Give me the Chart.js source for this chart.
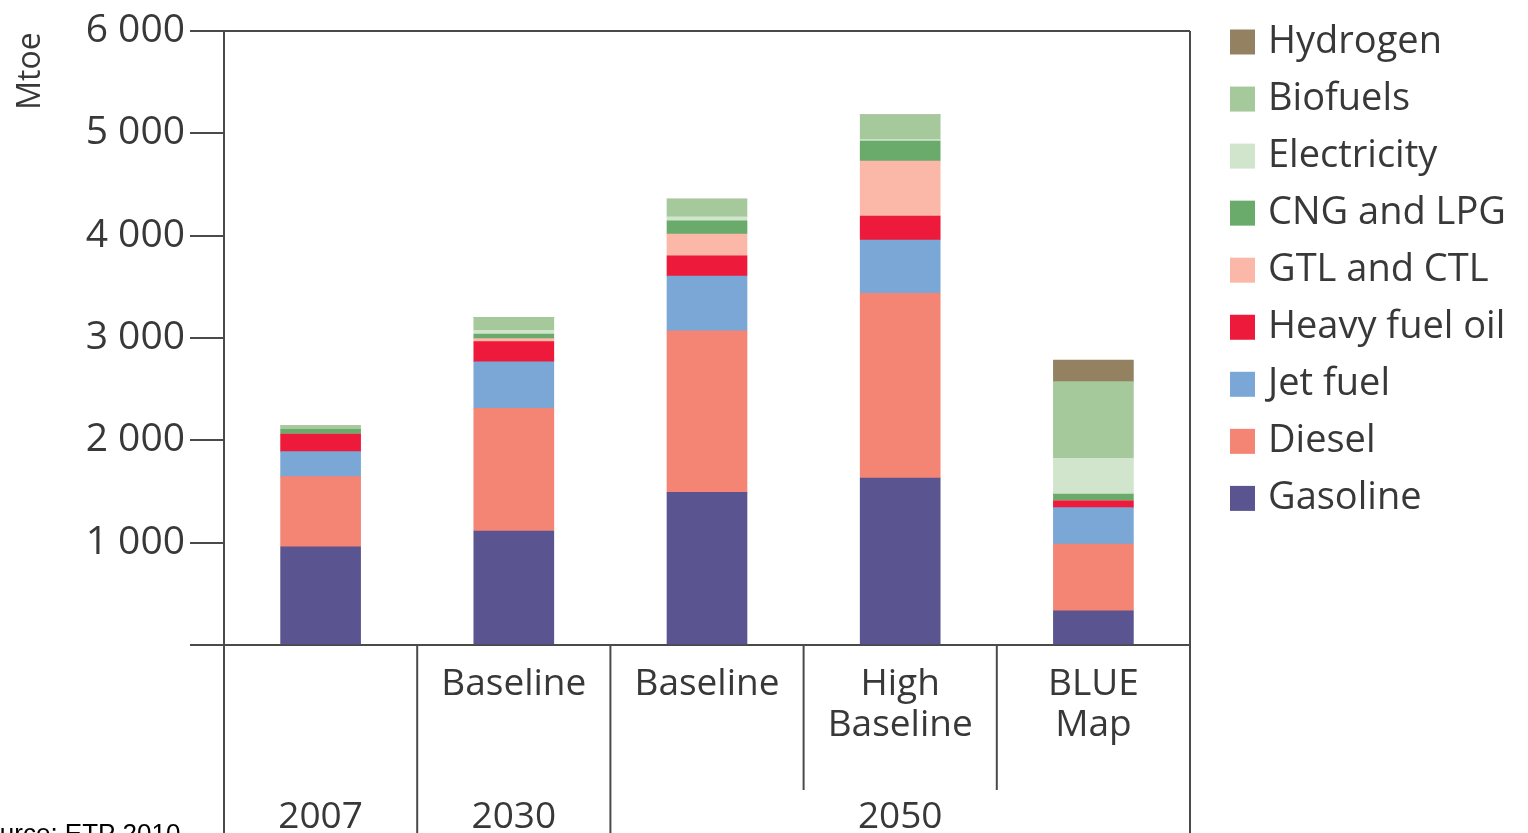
<!DOCTYPE html>
<html>
<head>
<meta charset="utf-8">
<script src="https://cdn.jsdelivr.net/npm/chart.js@4/dist/chart.umd.min.js"></script>
<style>
  html, body { margin: 0; padding: 0; background: #ffffff; overflow: hidden; }
  #wrap { position: relative; width: 1528px; height: 833px; }
</style>
</head>
<body>
<div id="wrap"><canvas id="c" width="1528" height="833"></canvas></div>
<script>
// Transport final energy demand by fuel (Mtoe)
const scenarios = [[''], ['Baseline'], ['Baseline'], ['High', 'Baseline'], ['BLUE', 'Map']];
const years = ['2007', '2030', '2050', '2050', '2050'];

const gasoline     = [960, 1114, 1492, 1632, 335];
const diesel       = [685, 1199, 1579, 1805, 652];
const jetFuel      = [245, 455, 535, 521, 355];
const heavyFuelOil = [172, 196, 198, 234, 68];
const gtlCtl       = [0, 30, 212, 538, 0];
const cngLpg       = [45, 45, 130, 195, 66];
const electricity  = [0, 35, 39, 15, 348];
const biofuels     = [35, 128, 173, 240, 749];
const hydrogen     = [0, 0, 0, 0, 212];

const yMin = 0, yMax = 6000, yStep = 1000;
const unitLabel = 'Mtoe';
const sourceNote = 'Source: ETP 2010';

const INK = '#383838';
const LINE = '#4a4a4a';
const FONT = '"Open Sans", "DejaVu Sans", sans-serif';

const series = [
  { label: 'Gasoline',       data: gasoline,     color: '#5a5591' },
  { label: 'Diesel',         data: diesel,       color: '#f48473' },
  { label: 'Jet fuel',       data: jetFuel,      color: '#7ba7d7' },
  { label: 'Heavy fuel oil', data: heavyFuelOil, color: '#ed1a3b' },
  { label: 'GTL and CTL',    data: gtlCtl,       color: '#fbb8a9' },
  { label: 'CNG and LPG',    data: cngLpg,       color: '#6aab6b' },
  { label: 'Electricity',    data: electricity,  color: '#d1e5cd' },
  { label: 'Biofuels',       data: biofuels,     color: '#a6c99c' },
  { label: 'Hydrogen',       data: hydrogen,     color: '#938161' }
];

function fmtThousands(v) {
  return String(v).replace(/\B(?=(\d{3})+(?!\d))/g, ' ');
}

// Frame, category separators, two-level category labels, legend and notes
const decorations = {
  id: 'decorations',
  afterDraw(chart) {
    const { ctx, chartArea: a, scales: { x } } = chart;
    const H = chart.height;
    ctx.save();
    ctx.strokeStyle = LINE;
    ctx.lineWidth = 2;

    // top and right frame
    ctx.beginPath();
    ctx.moveTo(a.left, a.top);
    ctx.lineTo(a.right, a.top);
    ctx.moveTo(a.right, a.top);
    ctx.lineTo(a.right, H);
    // left frame continues through the label area
    ctx.moveTo(a.left, a.bottom);
    ctx.lineTo(a.left, H);
    ctx.stroke();

    // separators between categories
    const n = years.length;
    for (let i = 0; i < n - 1; i++) {
      const xb = (x.getPixelForValue(i) + x.getPixelForValue(i + 1)) / 2;
      const full = years[i] !== years[i + 1];
      ctx.beginPath();
      ctx.moveTo(xb, a.bottom);
      ctx.lineTo(xb, full ? H : a.bottom + 145);
      ctx.stroke();
    }

    // scenario labels
    ctx.fillStyle = INK;
    ctx.textAlign = 'center';
    ctx.textBaseline = 'middle';
    ctx.font = '37px ' + FONT;
    scenarios.forEach((lines, i) => {
      const cx = x.getPixelForValue(i);
      lines.forEach((t, k) => ctx.fillText(t, cx, a.bottom + 39 + k * 41));
    });

    // year group labels
    const groups = {};
    years.forEach((y, i) => { (groups[y] = groups[y] || []).push(x.getPixelForValue(i)); });
    Object.keys(groups).forEach(y => {
      const px = groups[y];
      const cx = (Math.min(...px) + Math.max(...px)) / 2;
      ctx.fillText(y, cx, a.bottom + 172);
    });

    // legend, top entry is the last stacked series
    const lx = 1230, ly = 42, step = 57.05, sq = 25;
    ctx.textAlign = 'left';
    ctx.font = '38px ' + FONT;
    series.slice().reverse().forEach((s, k) => {
      const cy = ly + k * step;
      ctx.fillStyle = s.color;
      ctx.fillRect(lx, cy - sq / 2, sq, sq);
      ctx.fillStyle = INK;
      ctx.fillText(s.label, lx + 38, cy);
    });

    // unit title
    ctx.save();
    ctx.translate(31, 71);
    ctx.rotate(-Math.PI / 2);
    ctx.textAlign = 'center';
    ctx.font = '32px ' + FONT;
    ctx.fillText(unitLabel, 0, 0);
    ctx.restore();

    // source note
    ctx.textAlign = 'left';
    ctx.textBaseline = 'alphabetic';
    ctx.fillStyle = '#000';
    ctx.font = '26px "Liberation Sans", Arial, sans-serif';
    ctx.fillText(sourceNote, -32, 842);

    ctx.restore();
  }
};

new Chart(document.getElementById('c'), {
  type: 'bar',
  data: {
    labels: scenarios.map((s, i) => years[i] + ' ' + s.join(' ')),
    datasets: series.map(s => ({
      label: s.label,
      data: s.data,
      backgroundColor: s.color,
      borderWidth: 0,
      barThickness: 80
    }))
  },
  options: {
    responsive: false,
    animation: false,
    devicePixelRatio: 1,
    layout: { padding: { left: 0, right: 338, top: 31, bottom: 0 } },
    plugins: { legend: { display: false }, tooltip: { enabled: false } },
    scales: {
      x: {
        stacked: true,
        grid: { display: false },
        ticks: { display: false },
        border: { display: true, color: LINE, width: 2 },
        afterFit(s) { s.height = 188; }
      },
      y: {
        stacked: true,
        min: yMin,
        max: yMax,
        ticks: {
          stepSize: yStep,
          color: INK,
          padding: 5,
          font: { family: FONT, size: 39 },
          callback: v => (v === 0 ? '' : fmtThousands(v))
        },
        grid: { drawOnChartArea: false, drawTicks: true, tickLength: 34, color: LINE, lineWidth: 2 },
        border: { display: true, color: LINE, width: 2 },
        afterFit(s) { s.width = 224; }
      }
    }
  },
  plugins: [decorations]
});
</script>
</body>
</html>
